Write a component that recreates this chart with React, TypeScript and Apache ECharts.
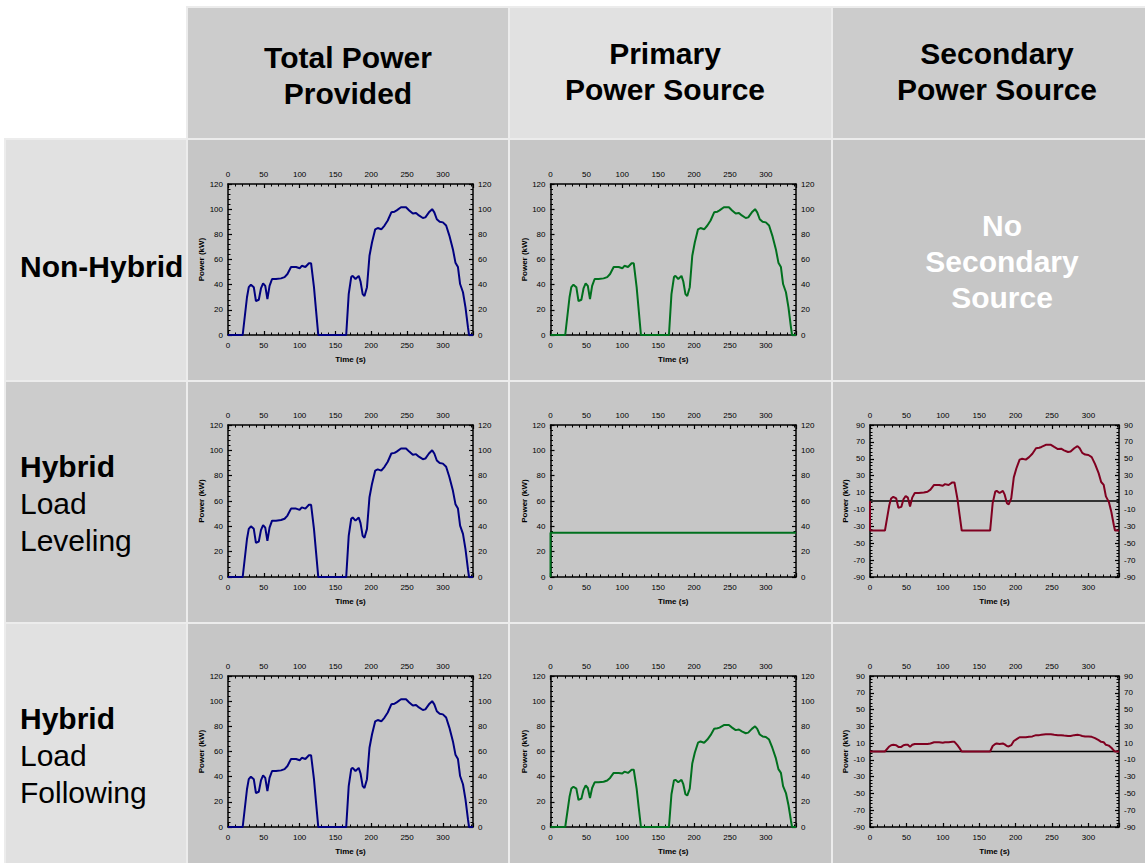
import React, { useEffect, useRef } from "react";
import * as echarts from "echarts";

// Drive-cycle time base (s)
const times = [
  0, 20.5, 26.5, 29, 32, 36, 39, 43, 46, 49,
  52, 55, 58, 61.5, 67, 74, 79, 83, 88, 95,
  100, 103, 108, 113, 116, 120, 123, 126, 165, 168.5,
  172, 174, 178, 182.5, 185, 188, 190.5, 194, 197.5, 201,
  205.5, 209, 214, 218.5, 223, 228, 232.5, 235.5, 241.5, 248.5,
  253, 258, 262.5, 266.5, 272, 275.5, 280.5, 285, 288, 291.5,
  295.5, 300, 304.5, 309, 314, 317.5, 321, 324, 328, 331.5,
  335, 336.5, 342,
];

// Total power demanded by the vehicle (kW)
const totalPower = [
  0, 0, 30, 38, 40, 38, 27, 28, 37, 41,
  39, 28.5, 39, 44.5, 44.5, 45, 46, 48.5, 54, 54,
  53, 55, 54, 57, 57, 38, 19, 0, 0, 32.5,
  46, 47, 44.5, 47, 42.5, 32.5, 31, 38, 63, 73.5,
  84, 85, 84, 87, 91, 97.5, 98, 99, 101.5, 101.5,
  99, 96.5, 97, 95, 93, 93.5, 97.5, 100, 97.5, 92,
  90, 89.5, 87, 79, 68, 57.5, 54, 40.5, 34, 22,
  6, 0, 0,
];

// Non-hybrid: the primary source supplies everything
const primaryNonHybrid = [
  0, 0, 30, 38, 40, 38, 27, 28, 37, 41,
  39, 28.5, 39, 44.5, 44.5, 45, 46, 48.5, 54, 54,
  53, 55, 54, 57, 57, 38, 19, 0, 0, 32.5,
  46, 47, 44.5, 47, 42.5, 32.5, 31, 38, 63, 73.5,
  84, 85, 84, 87, 91, 97.5, 98, 99, 101.5, 101.5,
  99, 96.5, 97, 95, 93, 93.5, 97.5, 100, 97.5, 92,
  90, 89.5, 87, 79, 68, 57.5, 54, 40.5, 34, 22,
  6, 0, 0,
];

// Load leveling: primary held at a constant output
const primaryLevelingTimes = [0, 0, 342];
const primaryLeveling = [0, 35, 35];

// Load leveling: secondary source covers the difference (charging when negative)
const secondaryLevelingTimes = [0, ...times];
const secondaryLeveling = [
  0,
  -35, -35, -5, 3, 5, 3, -8, -7, 2, 6,
  4, -6.5, 4, 9.5, 9.5, 10, 11, 13.5, 19, 19,
  18, 20, 19, 22, 22, 3, -16, -35, -35, -2.5,
  11, 12, 9.5, 12, 7.5, -2.5, -4, 3, 28, 38.5,
  49, 50, 49, 52, 56, 62.5, 63, 64, 66.5, 66.5,
  64, 61.5, 62, 60, 58, 58.5, 62.5, 65, 62.5, 57,
  55, 54.5, 52, 44, 33, 22.5, 19, 5.5, -1, -13,
  -29, -35, -35,
];

// Load following: primary tracks most of the demand
const primaryFollowing = [
  0, 0, 24, 30.5, 32, 30.5, 21.5, 22.5, 29.5, 33,
  31, 23, 31, 35.5, 35.5, 36, 37, 39, 43, 43,
  42.5, 44, 43, 45.5, 45.5, 30.5, 15, 0, 0, 26,
  37, 37.5, 35.5, 37.5, 34, 26, 25, 30.5, 50.5, 59,
  67, 68, 67, 69.5, 73, 78, 78.5, 79, 81, 81,
  79, 77, 77.5, 76, 74.5, 75, 78, 80, 78, 73.5,
  72, 71.5, 69.5, 63, 54.5, 46, 43, 32.5, 27, 17.5,
  5, 0, 0,
];

// Load following: secondary supplies the remainder
const secondaryFollowing = [
  0, 0, 6, 7.5, 8, 7.5, 5.5, 5.5, 7.5, 8,
  8, 5.5, 8, 9, 9, 9, 9, 9.5, 11, 11,
  10.5, 11, 11, 11.5, 11.5, 7.5, 4, 0, 0, 6.5,
  9, 9.5, 9, 9.5, 8.5, 6.5, 6, 7.5, 12.5, 14.5,
  17, 17, 17, 17.5, 18, 19.5, 19.5, 20, 20.5, 20.5,
  20, 19.5, 19.5, 19, 18.5, 18.5, 19.5, 20, 19.5, 18.5,
  18, 18, 17.5, 16, 13.5, 11.5, 11, 8, 7, 4.5,
  1, 0, 0,
];

const zeroTimes = [0, 342];
const zeroLine = [0, 0];

const columnTitles = [
  ["Total Power", "Provided"],
  ["Primary", "Power Source"],
  ["Secondary", "Power Source"],
];
const rowTitles = [
  { bold: ["Non-Hybrid"], plain: [] as string[] },
  { bold: ["Hybrid"], plain: ["Load", "Leveling"] },
  { bold: ["Hybrid"], plain: ["Load", "Following"] },
];
const noSecondaryText = ["No", "Secondary", "Source"];

const TIME_MAX = 342;
const NAVY = "#000080";
const GREEN = "#00701e";
const MAROON = "#800020";
const FONT = "Liberation Sans, Arial, sans-serif";

const colX = [
  [6, 186],
  [188, 508],
  [510, 831],
  [833, 1145],
];
const rowY = [
  [8, 138],
  [140, 380],
  [382, 622],
  [624, 863],
];
const plotCols = [
  { left: 228, width: 245 },
  { left: 550.5, width: 245.5 },
  { left: 870, width: 249 },
];
const plotRows = [
  { top: 184, height: 151 },
  { top: 425, height: 152 },
  { top: 676, height: 151 },
];

const pairs = (xs: number[], ys: number[]) => xs.map((x, i) => [x, ys[i]]);

export default function App() {
  const ref = useRef<HTMLDivElement>(null);

  useEffect(() => {
    document.body.style.margin = "0";
    if (!ref.current) return;
    const chart = echarts.init(ref.current, undefined, { renderer: "svg" });

    const grids: any[] = [];
    const xAxes: any[] = [];
    const yAxes: any[] = [];
    const series: any[] = [];

    const axisLine = { show: true, onZero: false, lineStyle: { color: "#000", width: 1.5 } };
    const label = { color: "#000", fontSize: 8, fontFamily: FONT };

    const addPlot = (
      row: number,
      col: number,
      yMin: number,
      yMax: number,
      lines: { xs: number[]; ys: number[]; color: string; width: number }[]
    ) => {
      const g = grids.length;
      grids.push({
        left: plotCols[col].left,
        width: plotCols[col].width,
        top: plotRows[row].top,
        height: plotRows[row].height,
        containLabel: false,
      });
      const xBase = {
        type: "value",
        gridIndex: g,
        min: 0,
        max: TIME_MAX,
        interval: 50,
        axisLine,
        axisTick: { show: true, inside: true, length: 4, lineStyle: { color: "#000", width: 1.2 } },
        minorTick: { show: true, splitNumber: 5, length: 2.5, lineStyle: { color: "#000", width: 1 } },
        splitLine: { show: false },
        axisLabel: { ...label, margin: 6, showMaxLabel: false },
      };
      const xi = xAxes.length;
      xAxes.push({
        ...xBase,
        position: "bottom",
        name: "Time (s)",
        nameLocation: "middle",
        nameGap: 20,
        nameTextStyle: { color: "#000", fontSize: 8, fontWeight: "bold", fontFamily: FONT },
      });
      xAxes.push({ ...xBase, position: "top" });
      const yBase = {
        type: "value",
        gridIndex: g,
        min: yMin,
        max: yMax,
        interval: 20,
        axisLine,
        axisTick: { show: true, inside: true, length: 4, lineStyle: { color: "#000", width: 1.2 } },
        minorTick: { show: true, splitNumber: 5, length: 2.5, lineStyle: { color: "#000", width: 1 } },
        splitLine: { show: false },
        axisLabel: { ...label, margin: 5 },
      };
      const yi = yAxes.length;
      yAxes.push({
        ...yBase,
        position: "left",
        name: "Power (kW)",
        nameLocation: "middle",
        nameRotate: 90,
        nameGap: yMin < 0 ? 21 : 22,
        nameTextStyle: { color: "#000", fontSize: 8, fontWeight: "bold", fontFamily: FONT },
      });
      yAxes.push({ ...yBase, position: "right" });
      lines.forEach((l) => {
        series.push({
          type: "line",
          xAxisIndex: xi,
          yAxisIndex: yi,
          data: pairs(l.xs, l.ys),
          showSymbol: false,
          symbol: "none",
          clip: true,
          lineStyle: { color: l.color, width: l.width },
          silent: true,
        });
      });
    };

    // Row 1: non-hybrid
    addPlot(0, 0, 0, 120, [{ xs: times, ys: totalPower, color: NAVY, width: 2 }]);
    addPlot(0, 1, 0, 120, [{ xs: times, ys: primaryNonHybrid, color: GREEN, width: 2 }]);
    // Row 2: hybrid load leveling
    addPlot(1, 0, 0, 120, [{ xs: times, ys: totalPower, color: NAVY, width: 2 }]);
    addPlot(1, 1, 0, 120, [{ xs: primaryLevelingTimes, ys: primaryLeveling, color: GREEN, width: 2 }]);
    addPlot(1, 2, -90, 90, [
      { xs: zeroTimes, ys: zeroLine, color: "#000", width: 1.5 },
      { xs: secondaryLevelingTimes, ys: secondaryLeveling, color: MAROON, width: 2 },
    ]);
    // Row 3: hybrid load following
    addPlot(2, 0, 0, 120, [{ xs: times, ys: totalPower, color: NAVY, width: 2 }]);
    addPlot(2, 1, 0, 120, [{ xs: times, ys: primaryFollowing, color: GREEN, width: 2 }]);
    addPlot(2, 2, -90, 90, [
      { xs: zeroTimes, ys: zeroLine, color: "#000", width: 1.5 },
      { xs: times, ys: secondaryFollowing, color: MAROON, width: 2 },
    ]);

    // Table cells behind the plots
    const graphics: any[] = [];
    graphics.push({
      type: "rect",
      z: -10,
      shape: { x: 186, y: 6, width: 959, height: 134 },
      style: { fill: "#ececec" },
    });
    graphics.push({
      type: "rect",
      z: -10,
      shape: { x: 4, y: 138, width: 1141, height: 725 },
      style: { fill: "#ececec" },
    });
    const headerFill = ["#cccccc", "#e1e1e1", "#cccccc"];
    for (let c = 1; c <= 3; c++) {
      graphics.push({
        type: "rect",
        z: -9,
        shape: { x: colX[c][0], y: rowY[0][0], width: colX[c][1] - colX[c][0], height: rowY[0][1] - rowY[0][0] },
        style: { fill: headerFill[c - 1] },
      });
    }
    const rowHeadFill = ["#e1e1e1", "#cccccc", "#e1e1e1"];
    for (let r = 1; r <= 3; r++) {
      graphics.push({
        type: "rect",
        z: -9,
        shape: { x: colX[0][0], y: rowY[r][0], width: colX[0][1] - colX[0][0], height: rowY[r][1] - rowY[r][0] },
        style: { fill: rowHeadFill[r - 1] },
      });
      for (let c = 1; c <= 3; c++) {
        graphics.push({
          type: "rect",
          z: -9,
          shape: { x: colX[c][0], y: rowY[r][0], width: colX[c][1] - colX[c][0], height: rowY[r][1] - rowY[r][0] },
          style: { fill: "#c6c6c6" },
        });
      }
    }

    // Column titles
    const titleCenters = [348, 665, 997];
    const titleLineY = [[57, 93], [53, 89], [53, 89]];
    columnTitles.forEach((lines, i) => {
      lines.forEach((t, j) => {
        graphics.push({
          type: "text",
          z: 5,
          x: titleCenters[i],
          y: titleLineY[i][j],
          style: {
            text: t,
            fill: "#000",
            font: `bold 30px ${FONT}`,
            textAlign: "center",
            textVerticalAlign: "middle",
          },
        });
      });
    });

    // Row titles
    const rowFirstLine = [266, 466, 718];
    rowTitles.forEach((rt, i) => {
      const lines = [
        ...rt.bold.map((t) => ({ t, w: "bold" })),
        ...rt.plain.map((t) => ({ t, w: "normal" })),
      ];
      lines.forEach((ln, j) => {
        graphics.push({
          type: "text",
          z: 5,
          x: 20,
          y: rowFirstLine[i] + j * 37,
          style: {
            text: ln.t,
            fill: "#000",
            font: `${ln.w} 30px ${FONT}`,
            textAlign: "left",
            textVerticalAlign: "middle",
          },
        });
      });
    });

    // Empty secondary cell for the non-hybrid vehicle
    noSecondaryText.forEach((t, j) => {
      graphics.push({
        type: "text",
        z: 5,
        x: 1002,
        y: 225 + j * 36,
        style: {
          text: t,
          fill: "#ffffff",
          font: `bold 30px ${FONT}`,
          textAlign: "center",
          textVerticalAlign: "middle",
        },
      });
    });

    chart.setOption({
      animation: false,
      backgroundColor: "#ffffff",
      grid: grids,
      xAxis: xAxes,
      yAxis: yAxes,
      series,
      graphic: graphics,
    });

    return () => chart.dispose();
  }, []);

  return <div ref={ref} style={{ width: 1145, height: 863 }} />;
}
